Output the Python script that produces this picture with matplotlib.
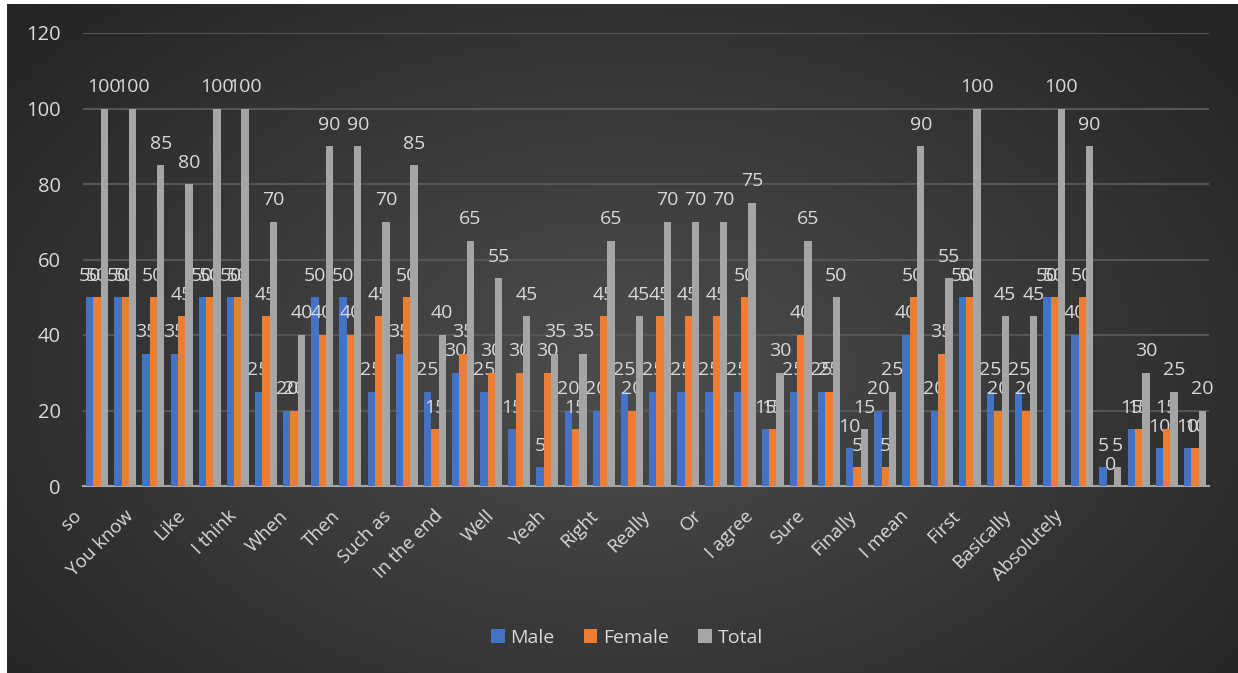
import numpy as np
import matplotlib
matplotlib.use("Agg")
import matplotlib.pyplot as plt

plt.rcParams['font.family'] = ['Open Sans', 'DejaVu Sans']

# words shown on the axis (Excel only shows every other one)
labels = ["so", "You know", "Like", "I think", "When", "Then", "Such as",
          "In the end", "Well", "Yeah", "Right", "Really", "Or", "I agree",
          "Sure", "Finally", "I mean", "First", "Basically", "Absolutely"]

male = [50, 50, 35, 35, 50, 50, 25, 20, 50, 50, 25, 35, 25, 30, 25, 15, 5, 20, 20, 25,
        25, 25, 25, 25, 15, 25, 25, 10, 20, 40, 20, 50, 25, 25, 50, 40, 5, 15, 10, 10]
female = [50, 50, 50, 45, 50, 50, 45, 20, 40, 40, 45, 50, 15, 35, 30, 30, 30, 15, 45, 20,
          45, 45, 45, 50, 15, 40, 25, 5, 5, 50, 35, 50, 20, 20, 50, 50, 0, 15, 15, 10]
total = [100, 100, 85, 80, 100, 100, 70, 40, 90, 90, 70, 85, 40, 65, 55, 45, 35, 35, 65, 45,
         70, 70, 70, 75, 30, 65, 50, 15, 25, 90, 55, 100, 45, 45, 100, 90, 5, 30, 25, 20]

txt = '#D9D9D9'
W, H = 1238, 673
fig = plt.figure(figsize=(W / 100, H / 100), dpi=100, facecolor='white')

# dark radial background
bg = fig.add_axes([7 / W, 0, 1 - 7 / W, 1 - 4 / H])
yy, xx = np.mgrid[0:1:300j, 0:1:600j]
r = np.sqrt(((xx - 0.5) / 0.75) ** 2 + ((yy - 0.45) / 0.9) ** 2)
bg.imshow(r, cmap=matplotlib.colors.LinearSegmentedColormap.from_list(
    'bg', ['#4d4d4d', '#3a3a3a', '#262626']), vmin=0, vmax=0.85,
    aspect='auto', extent=[0, 1, 0, 1], origin='lower')
bg.axis('off')

ax = fig.add_axes([83 / W, (H - 486) / H, (1209 - 83) / W, (486 - 33) / H])
ax.patch.set_alpha(0)

x = np.arange(len(male))
w = 0.26
series = [(male, '#4472C4', 'Male'), (female, '#ED7D31', 'Female'), (total, '#A5A5A5', 'Total')]
for i, (vals, col, name) in enumerate(series):
    bars = ax.bar(x + (i - 1) * w, vals, w, color=col, label=name, zorder=3)
    ax.bar_label(bars, padding=9, color=txt, fontsize=14)

ax.set_ylim(0, 120)
ax.set_xlim(-0.5, len(male) - 0.5)
ax.set_yticks(range(0, 121, 20))
ax.yaxis.grid(True, color='#555555', linewidth=1.5, zorder=0)
for s in ['top', 'right', 'left']:
    ax.spines[s].set_visible(False)
ax.spines['bottom'].set_color('#A6A6A6')
ax.spines['bottom'].set_linewidth(1.5)
ax.tick_params(axis='y', length=0, pad=16, labelsize=14.5, labelcolor=txt)

ax.set_xticks(np.linspace(-0.43, 34.45, len(labels)))
ax.set_xticklabels(labels, rotation=45, ha='right', va='top', fontsize=13.5, color=txt)
ax.tick_params(axis='x', length=0, pad=15)

fig.legend(loc='center', bbox_to_anchor=(627 / W, (H - 638) / H), ncol=3, frameon=False,
           fontsize=14, labelcolor=txt, handlelength=0.7, handleheight=0.7,
           handletextpad=0.3, columnspacing=1.5)

fig.savefig('out.png', dpi=100, facecolor=fig.get_facecolor())
